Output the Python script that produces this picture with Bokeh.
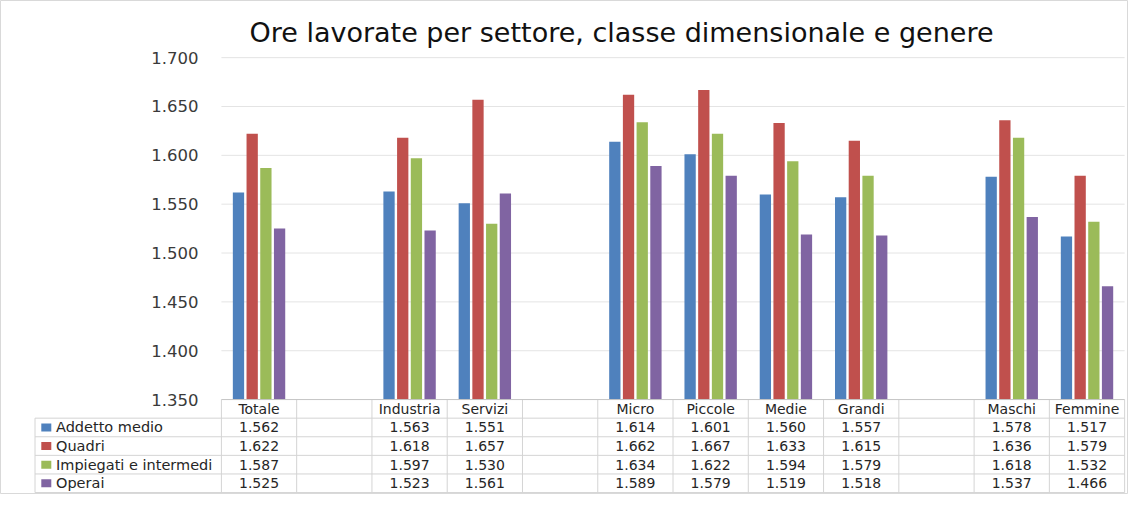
from bokeh.plotting import figure
from bokeh.models import Range1d
from bokeh.core.properties import value
from bokeh.embed import file_html
from bokeh.resources import INLINE

# ---------------- data ----------------
categories = ["Totale", "", "Industria", "Servizi", "", "Micro", "Piccole",
              "Medie", "Grandi", "", "Maschi", "Femmine"]
series_names = ["Addetto medio", "Quadri", "Impiegati e intermedi", "Operai"]
addetto_medio = [1562, None, 1563, 1551, None, 1614, 1601, 1560, 1557, None, 1578, 1517]
quadri = [1622, None, 1618, 1657, None, 1662, 1667, 1633, 1615, None, 1636, 1579]
impiegati_intermedi = [1587, None, 1597, 1530, None, 1634, 1622, 1594, 1579, None, 1618, 1532]
operai = [1525, None, 1523, 1561, None, 1589, 1579, 1519, 1518, None, 1537, 1466]
y_ticks = [1350, 1400, 1450, 1500, 1550, 1600, 1650, 1700]
title_text = "Ore lavorate per settore, classe dimensionale e genere"

series = [addetto_medio, quadri, impiegati_intermedi, operai]
colors = ["#4F81BD", "#C0504D", "#9BBB59", "#8064A2"]


def fmt(v):
    return "" if v is None else f"{v:,}".replace(",", ".")


FONT = value("DejaVu Sans")
W, H = 1128, 494
n = len(categories)

# layout in pixels
slot_px = 75.27          # width of one category slot
left_px = 220.9          # x pixel where the first slot starts
px_per_unit = 0.9769     # vertical pixels per hour
top_px = 57.15           # pixel of the top tick
x_start = -left_px / slot_px
x_end = (W - left_px) / slot_px
y_end = y_ticks[-1] + top_px / px_per_unit
y_start = y_end - H / px_per_unit
base = y_ticks[0]


def px_x(px):
    return (px - left_px) / slot_px


def px_y(px):
    return y_end - px / px_per_unit


p = figure(width=W, height=H, output_backend="svg", toolbar_location=None,
           x_range=Range1d(x_start, x_end), y_range=Range1d(y_start, y_end),
           min_border=0, title=None)
p.axis.visible = False
p.grid.visible = False
p.outline_line_color = "#d9d9d9"
p.background_fill_color = "white"
p.border_fill_color = "white"

# gridlines
grid_ticks = [t for t in y_ticks if t > base]
p.segment(x0=[0] * len(grid_ticks), x1=[n] * len(grid_ticks), y0=grid_ticks, y1=grid_ticks,
          line_color="#e4e4e4", line_width=1)

# y tick labels
p.text(x=[px_x(198)] * len(y_ticks), y=y_ticks, text=[fmt(t) for t in y_ticks],
       text_font=FONT, text_font_size="16.5px", text_align="right", text_baseline="middle",
       text_color="#3a3a3a")

# bars
offsets = [-0.273, -0.091, 0.091, 0.273]
bar_w = 0.150
for vals, off, col in zip(series, offsets, colors):
    xs = [i + 0.5 + off for i, v in enumerate(vals) if v is not None]
    tops = [v for v in vals if v is not None]
    p.vbar(x=xs, top=tops, bottom=base, width=bar_w, fill_color=col, line_color=None)

# title
p.text(x=[px_x(621)], y=[px_y(32)], text=[title_text], text_font=FONT,
       text_font_size="27px", text_align="center", text_baseline="middle", text_color="#111111")

# ---------------- data table ----------------
row_h = 18.6 / px_per_unit
leg_left = px_x(34.5)
line_col = "#d4d4d4"
hy = [base - row_h * k for k in range(1, 6)]
# vertical lines
vx = list(range(0, n + 1))
p.segment(x0=vx, x1=vx, y0=[base] * len(vx), y1=[hy[-1]] * len(vx), line_color=line_col, line_width=1)
p.segment(x0=[leg_left], x1=[leg_left], y0=[hy[0]], y1=[hy[-1]], line_color=line_col, line_width=1)
# horizontal lines
p.segment(x0=[leg_left] * len(hy), x1=[n] * len(hy), y0=hy, y1=hy, line_color=line_col, line_width=1)
p.segment(x0=[0], x1=[n], y0=[base], y1=[base], line_color="#c4c4c4", line_width=1)

# category header
p.text(x=[i + 0.5 for i in range(n)], y=[base - row_h * 0.5] * n, text=categories,
       text_font=FONT, text_font_size="14px", text_align="center", text_baseline="middle",
       text_color="#262626")

# legend keys & row values
for k, (name, vals, col) in enumerate(zip(series_names, series, colors)):
    yc = base - row_h * (k + 1.5)
    p.rect(x=[px_x(45.8)], y=[yc], width=10, height=8, width_units="screen",
           height_units="screen", fill_color=col, line_color=None)
    p.text(x=[px_x(55.5)], y=[yc], text=[name], text_font=FONT, text_font_size="14.5px",
           text_align="left", text_baseline="middle", text_color="#262626")
    p.text(x=[i + 0.5 for i in range(n)], y=[yc] * n, text=[fmt(v) for v in vals],
           text_font=FONT, text_font_size="14px", text_align="center", text_baseline="middle",
           text_color="#262626")

open("out.html", "w").write(file_html(p, INLINE))
